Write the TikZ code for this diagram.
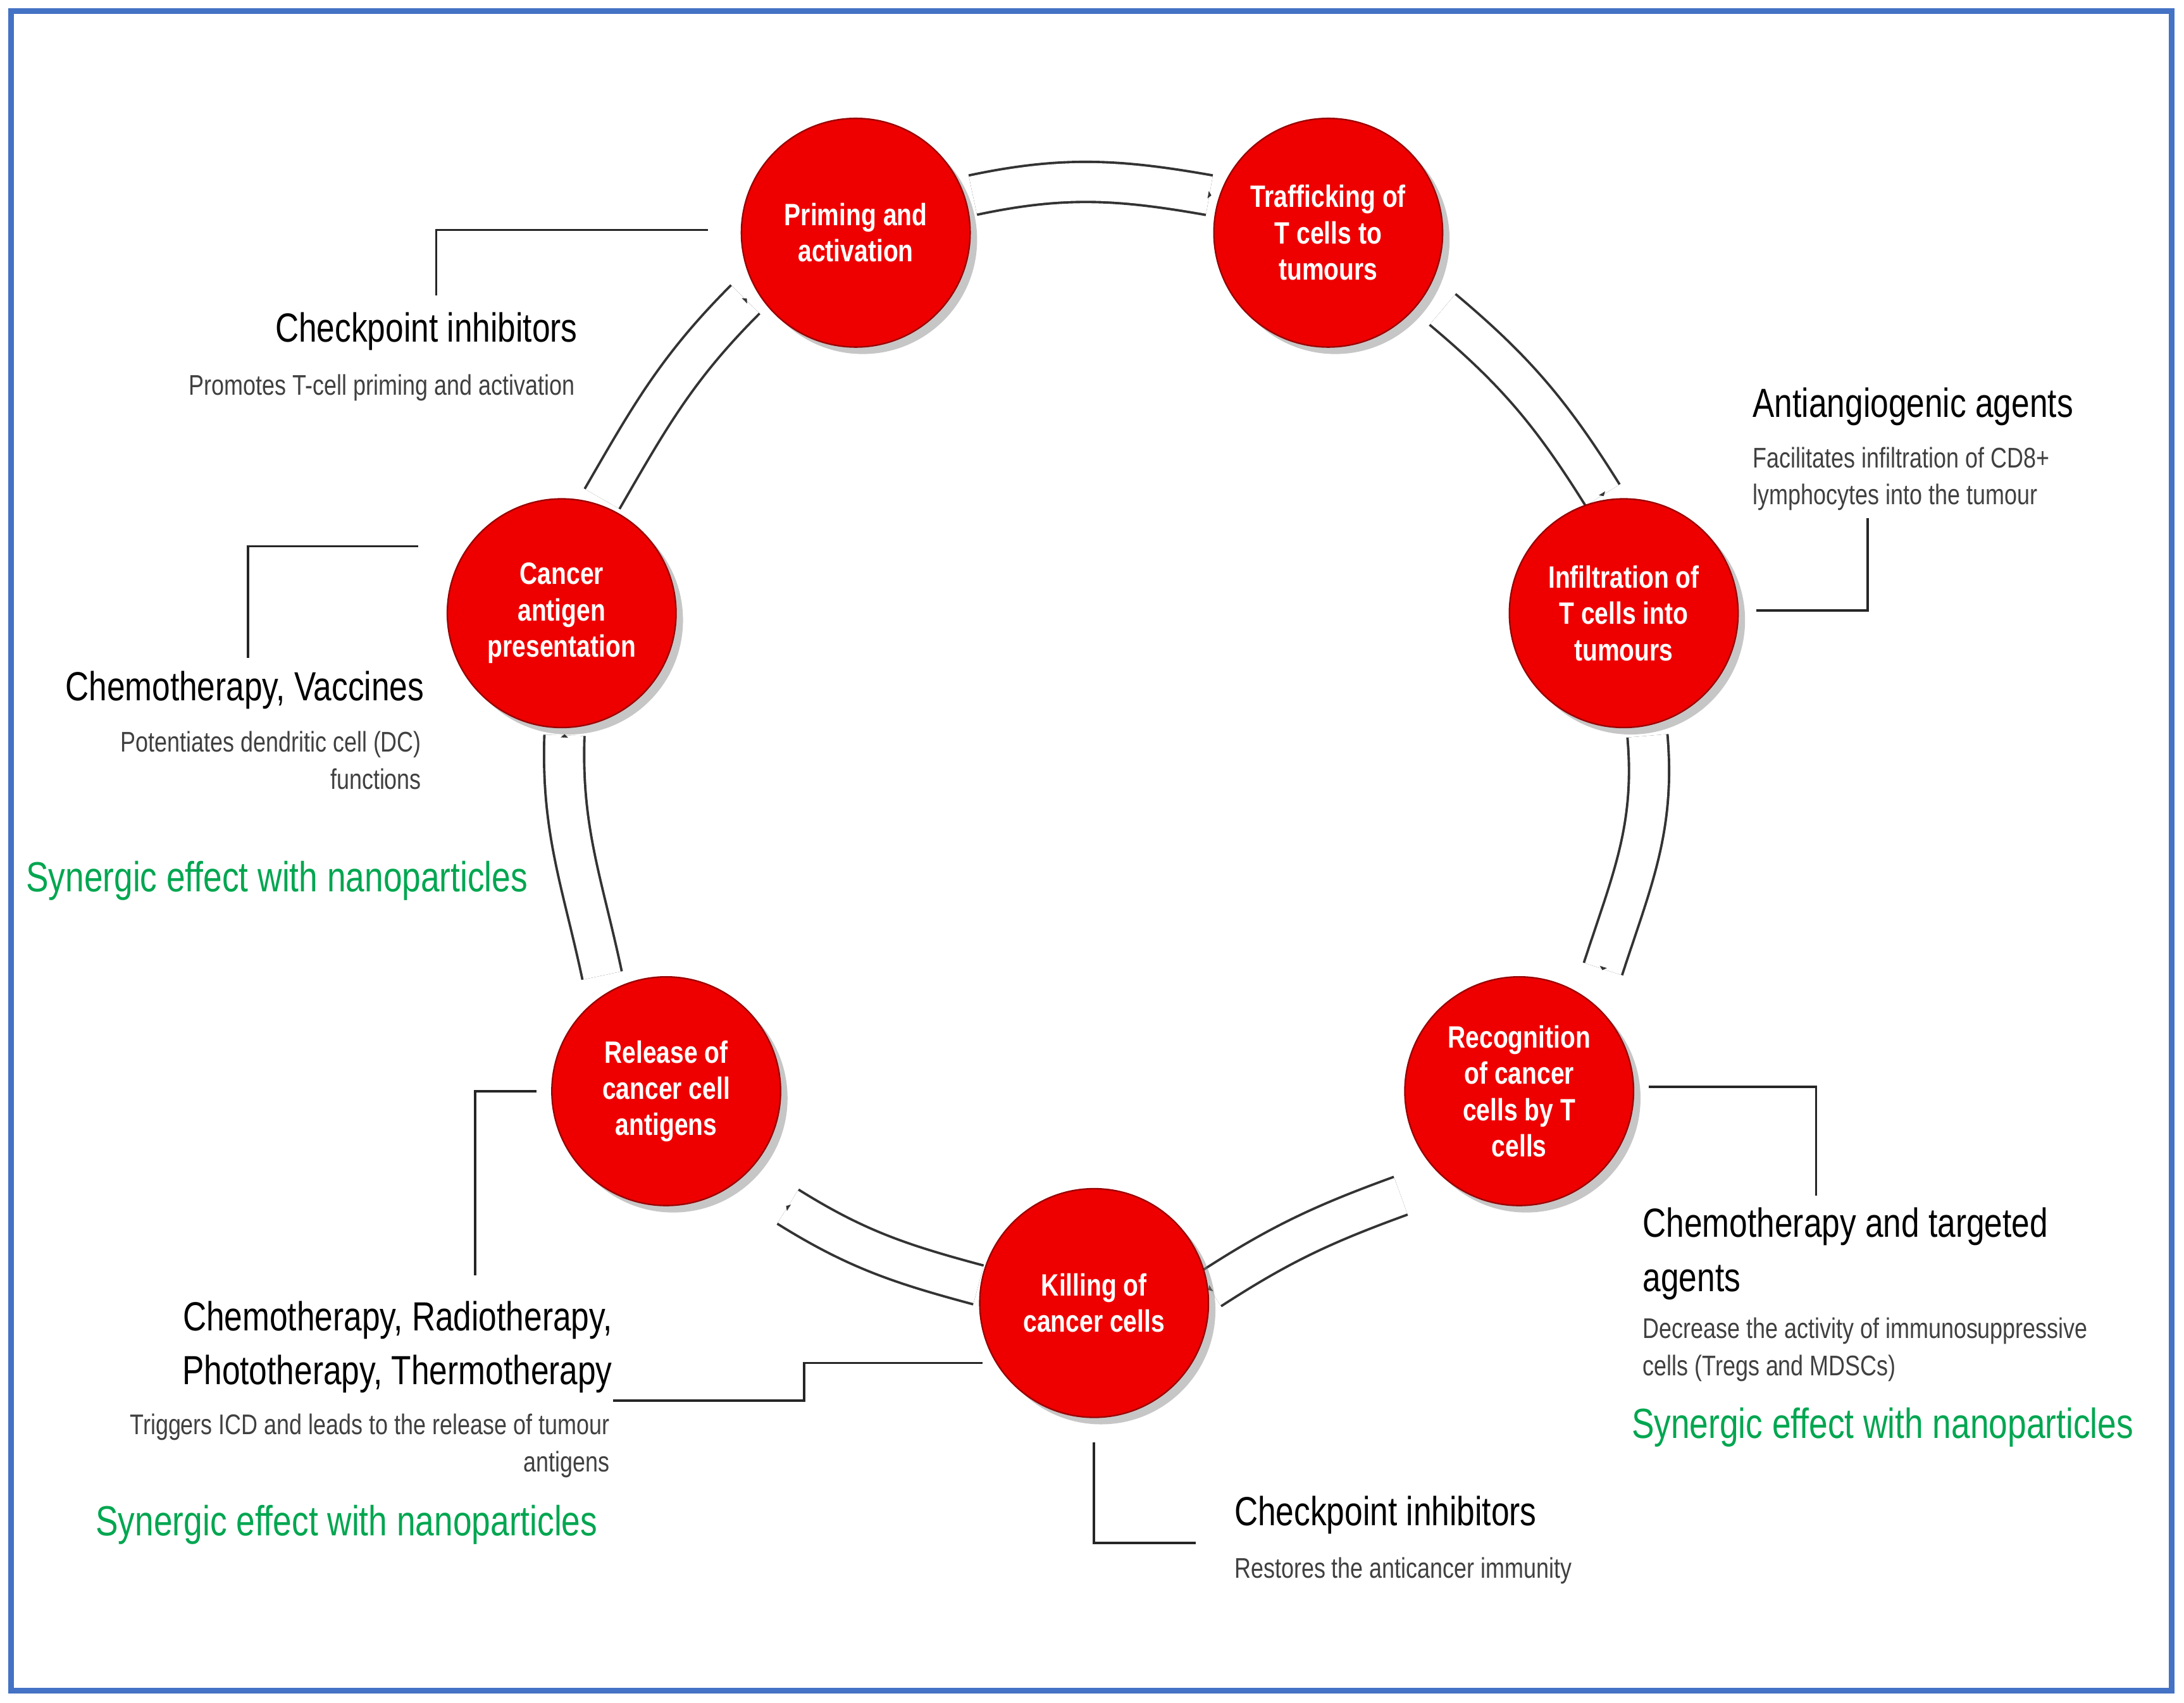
\documentclass[tikz,border=0pt]{standalone}
\usepackage{fontspec}
\setmainfont{Liberation Sans}[FakeStretch=0.8]
\usetikzlibrary{shadows,calc}
\definecolor{cred}{HTML}{EE0000}
\definecolor{cgreen}{HTML}{00A650}
\definecolor{cblue}{HTML}{4472C4}
\tikzset{
 stage/.style={circle,minimum size=1.64cm,fill=cred,draw=red!60!black,line width=0.3pt,text=white,font=\fontsize{6.3}{7.4}\selectfont\bfseries,align=center,inner sep=0pt,drop shadow={opacity=0.45,shadow xshift=0.05cm,shadow yshift=-0.05cm}},
 head/.style={font=\fontsize{8.3}{9.5}\selectfont,text=black,inner sep=0pt},
 sub/.style={font=\fontsize{5.8}{7.6}\selectfont,text=black!75,inner sep=0pt},
 green/.style={font=\fontsize{8.6}{10}\selectfont,text=cgreen,inner sep=0pt},
 call/.style={draw=black!85,line width=0.5pt},
}
\newcommand{\blockarr}[4]{% start, tip, out angle, arrival angle
 \draw[black!80,line width=0.5pt,double=white,double distance=0.27cm] (#1) to[out=#3,in=#4+180] ($(#2)+(#4+180:0.33)$);
 \begin{scope}[shift={(#2)},rotate=#4]
  \fill[white] (0,0) -- (-0.34,0.38) -- (-0.34,-0.38) -- cycle;
  \draw[black!80,line width=0.5pt,line join=miter] (-0.34,0.15) -- (-0.34,0.38) -- (0,0) -- (-0.34,-0.38) -- (-0.34,-0.15);
 \end{scope}}
\begin{document}
\begin{tikzpicture}[x=0.01cm,y=-0.01cm]
\useasboundingbox (0,0) rectangle (1567,1222);
\draw[cblue,line width=1.2pt] (8,8) rectangle (1558,1213);
% block arrows
\coordinate (s1) at (698,140); \coordinate (t1) at (868,140);
\coordinate (s2) at (1035,222); \coordinate (t2) at (1150,355);
\coordinate (s3) at (1182,528); \coordinate (t3) at (1150,695);
\coordinate (s4) at (1005,858); \coordinate (t4) at (868,925);
\coordinate (s5) at (702,922); \coordinate (t5) at (565,866);
\coordinate (s6) at (432,700); \coordinate (t6) at (405,528);
\coordinate (s7) at (432,358); \coordinate (t7) at (535,215);
\blockarr{s1}{t1}{12}{-10}
\blockarr{s2}{t2}{-40}{-58}
\blockarr{s3}{t3}{-85}{-108}
\blockarr{s4}{t4}{200}{213}
\blockarr{s5}{t5}{165}{148}
\blockarr{s6}{t6}{102}{88}
\blockarr{s7}{t7}{60}{45}
% circles
\node[stage] (p) at (614,167) {Priming and\\activation};
\node[stage] (t) at (953,167) {Trafficking of\\T cells to\\tumours};
\node[stage] (i) at (1165,440) {Infiltration of\\T cells into\\tumours};
\node[stage] (r) at (1090,783) {Recognition\\of cancer\\cells by T\\cells};
\node[stage] (k) at (785,935) {Killing of\\cancer cells};
\node[stage] (l) at (478,783) {Release of\\cancer cell\\antigens};
\node[stage] (c) at (403,440) {Cancer\\antigen\\presentation};
% callout lines
\coordinate (a1) at (508,165); \coordinate (a2) at (313,212);
\draw[call] (a1) -| (a2);
\coordinate (b1) at (300,392); \coordinate (b2) at (178,472);
\draw[call] (b1) -| (b2);
\coordinate (c1) at (1260,438); \coordinate (c2) at (1340,372);
\draw[call] (c1) -| (c2);
\coordinate (d1) at (1183,780); \coordinate (d2) at (1303,858);
\draw[call] (d1) -| (d2);
\coordinate (e1) at (385,783); \coordinate (e2) at (341,915);
\draw[call] (e1) -| (e2);
\coordinate (f1) at (705,978); \coordinate (f2) at (577,1005); \coordinate (f3) at (440,1005);
\draw[call] (f1) -| (f2) -- (f3);
\coordinate (g1) at (785,1035); \coordinate (g2) at (858,1107);
\draw[call] (g1) |- (g2);
% texts
\node[head,anchor=east] (h1) at (415,238) {Checkpoint inhibitors};
\node[sub,anchor=east] (h1s) at (413,278) {Promotes T-cell priming and activation};
\node[head,anchor=west] (h2) at (1257,292) {Antiangiogenic agents};
\node[sub,anchor=north west,align=left] (h2s) at (1257,320) {Facilitates infiltration of CD8+\\lymphocytes into the tumour};
\node[head,anchor=east] (h3) at (305,495) {Chemotherapy, Vaccines};
\node[sub,anchor=north east,align=right] (h3s) at (303,524) {Potentiates dendritic cell (DC)\\functions};
\node[green,anchor=west] (g3) at (18,632) {Synergic effect with nanoparticles};
\node[head,anchor=north west,align=left,font=\fontsize{8.3}{11}\selectfont] (h4) at (1178,866) {Chemotherapy and targeted\\agents};
\node[sub,anchor=north west,align=left] (h4s) at (1178,945) {Decrease the activity of immunosuppressive\\cells (Tregs and MDSCs)};
\node[green,anchor=west] (g4) at (1170,1024) {Synergic effect with nanoparticles};
\node[head,anchor=north east,align=right,font=\fontsize{8.3}{11}\selectfont] (h5) at (440,933) {Chemotherapy, Radiotherapy,\\Phototherapy, Thermotherapy};
\node[sub,anchor=north east,align=right] (h5s) at (438,1014) {Triggers ICD and leads to the release of tumour\\antigens};
\node[green,anchor=west] (g5) at (68,1094) {Synergic effect with nanoparticles};
\node[head,anchor=west] (h6) at (885,1087) {Checkpoint inhibitors};
\node[sub,anchor=west] (h6s) at (885,1127) {Restores the anticancer immunity};
\end{tikzpicture}
\end{document}
